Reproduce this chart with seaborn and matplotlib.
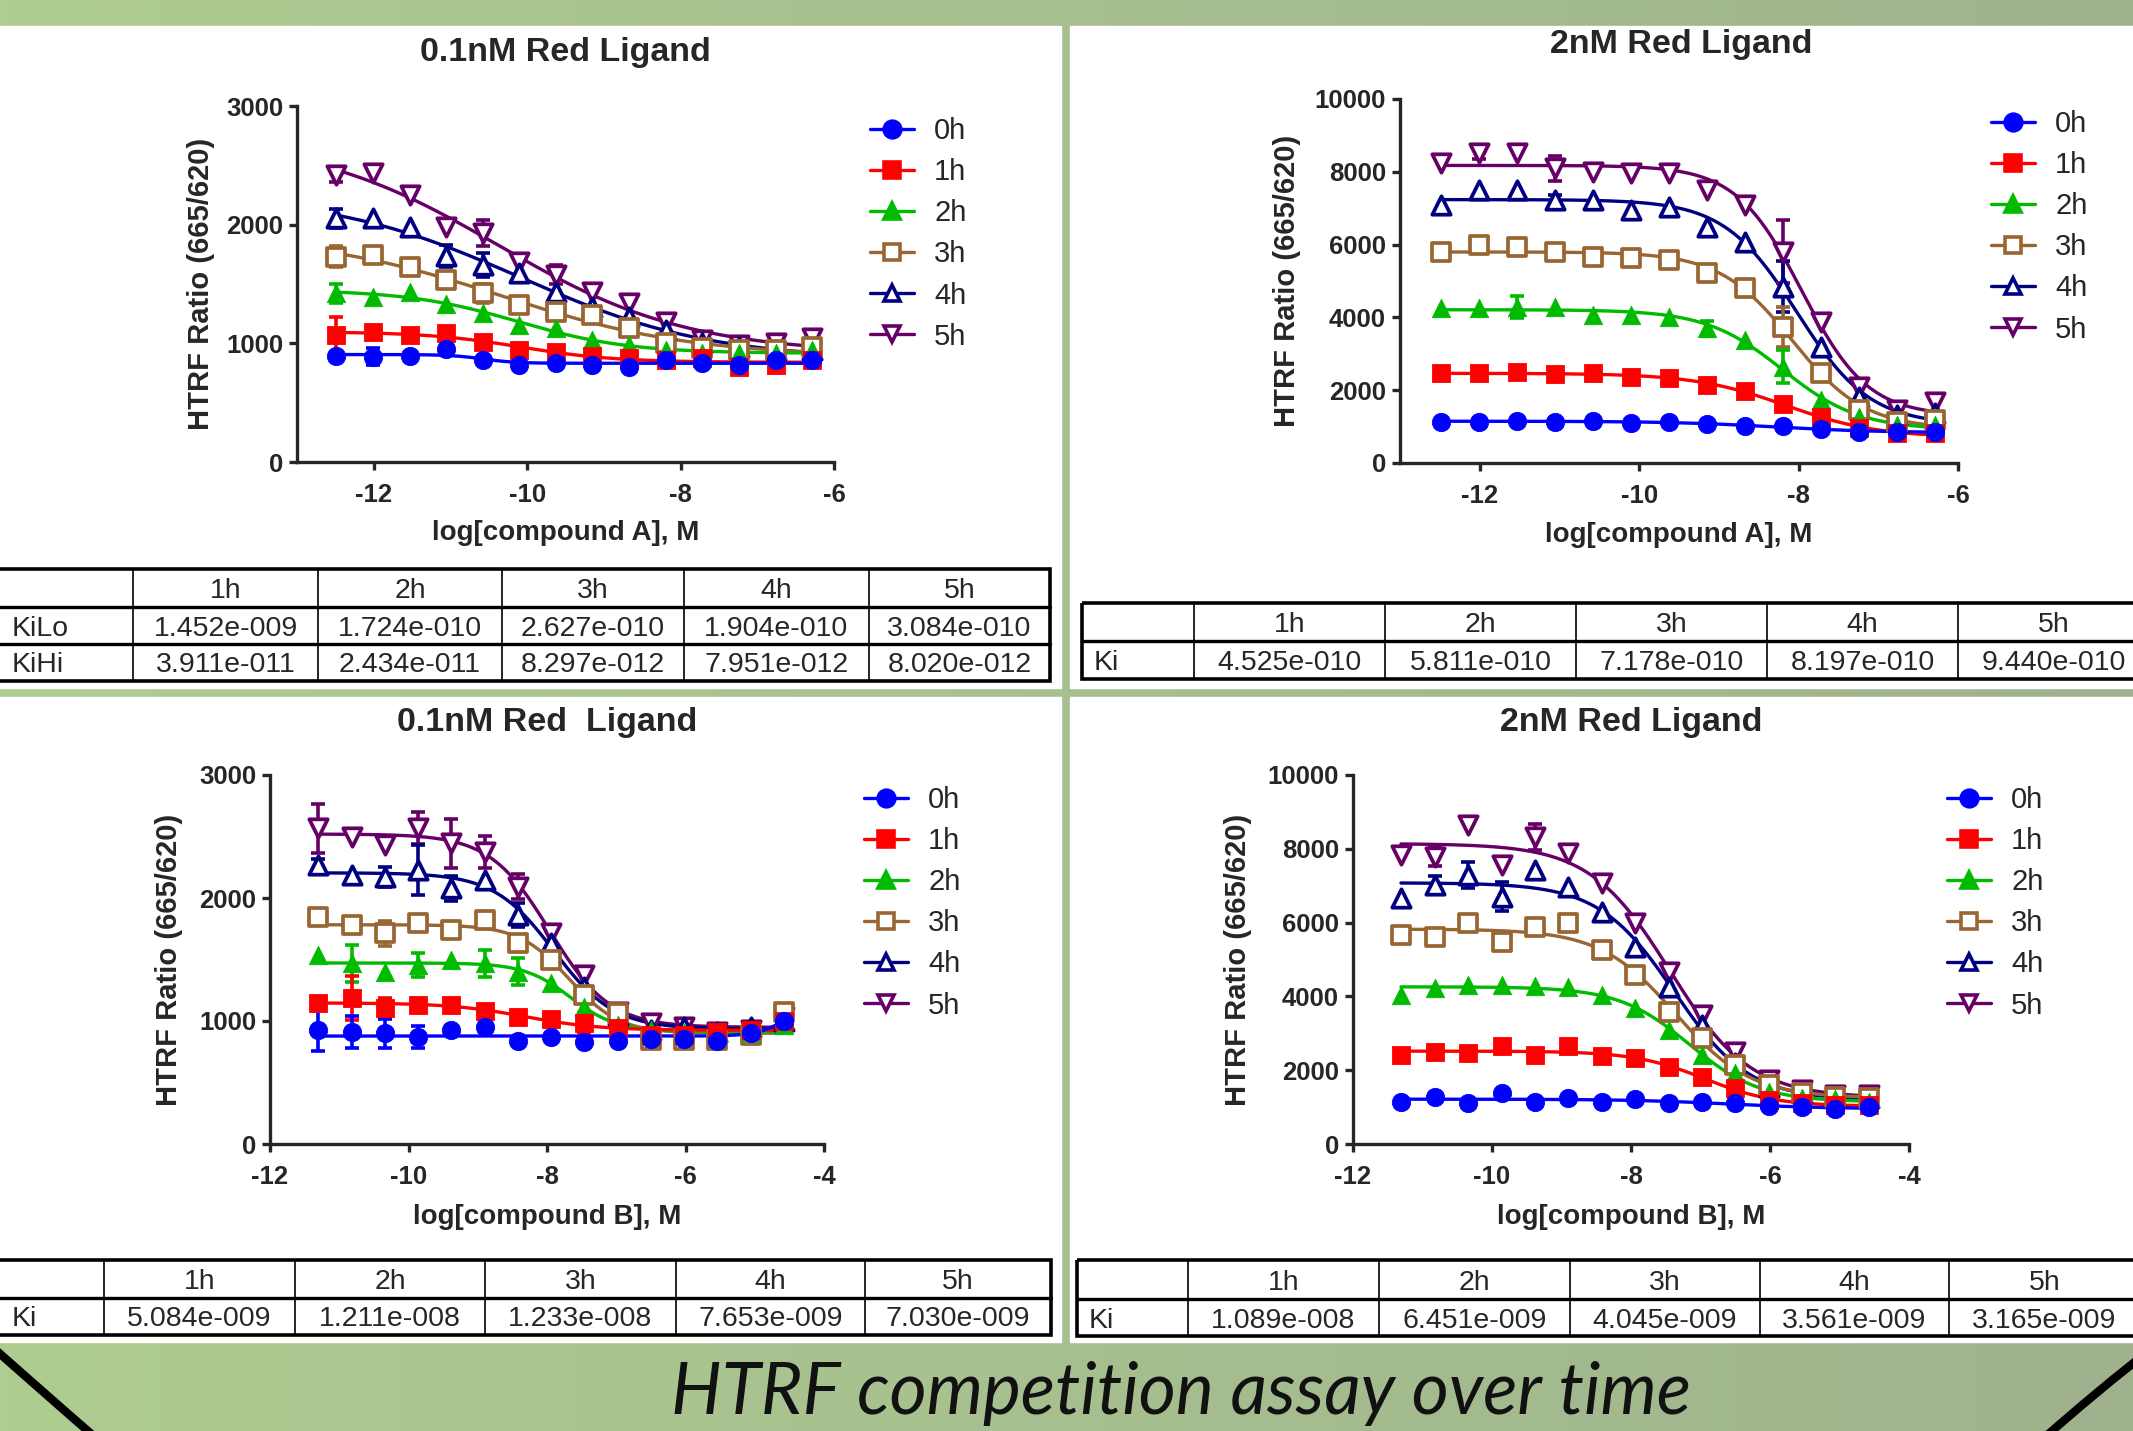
import numpy as np
import matplotlib
matplotlib.use('Agg')
import matplotlib.pyplot as plt
from matplotlib.lines import Line2D
from matplotlib.patches import Rectangle, PathPatch
from matplotlib.path import Path
from matplotlib.colors import LinearSegmentedColormap
import seaborn as sns

W, H = 2133, 1431

# ---- data -------------------------------------------------------------
times = ['0h', '1h', '2h', '3h', '4h', '5h']
hours = ['1h', '2h', '3h', '4h', '5h']

logA = [-12.49, -12.01, -11.53, -11.06, -10.58, -10.10, -9.62, -9.15,
        -8.67, -8.19, -7.72, -7.24, -6.76, -6.29]
logB = [-11.31, -10.82, -10.34, -9.86, -9.38, -8.90, -8.42, -7.94,
        -7.46, -6.98, -6.50, -6.02, -5.54, -5.06, -4.58]

# compound A, 0.1nM red ligand (rows 0h..5h)
a_low = [
    [893, 888, 893, 952, 860, 817, 831, 817, 803, 857, 837, 817, 857, 857],
    [1070, 1098, 1070, 1084, 1014, 944, 930, 893, 874, 860, 874, 803, 817, 860],
    [1421, 1393, 1435, 1331, 1253, 1154, 1126, 1028, 986, 944, 916, 916, 916, 944],
    [1730, 1744, 1646, 1534, 1421, 1323, 1267, 1239, 1126, 1000, 958, 944, 944, 972],
    [2053, 2053, 1978, 1736, 1660, 1590, 1435, 1309, 1225, 1112, 1000, 972, 944, 944],
    [2419, 2438, 2250, 1978, 1927, 1688, 1576, 1435, 1343, 1183, 1028, 986, 1000, 1042],
]
a_low_err = [
    [0, 70, 0, 0, 0, 0, 0, 0, 0, 0, 0, 0, 0, 0],
    [150, 0, 0, 0, 0, 0, 0, 0, 0, 0, 0, 0, 0, 0],
    [80, 0, 0, 0, 0, 0, 0, 0, 0, 0, 0, 0, 0, 0],
    [90, 0, 0, 0, 80, 0, 0, 0, 0, 0, 0, 0, 0, 0],
    [80, 0, 0, 90, 100, 0, 0, 0, 0, 0, 0, 0, 0, 0],
    [60, 0, 0, 0, 110, 0, 80, 0, 0, 0, 0, 0, 0, 0],
]

# compound A, 2nM red ligand
a_high = [
    [1136, 1136, 1163, 1136, 1163, 1108, 1136, 1062, 1016, 1016, 925, 861, 861, 861],
    [2463, 2463, 2490, 2445, 2480, 2353, 2326, 2143, 1987, 1621, 1273, 952, 815, 815],
    [4249, 4249, 4295, 4280, 4066, 4066, 4020, 3699, 3379, 2646, 1731, 1273, 1044, 1044],
    [5805, 5989, 5943, 5805, 5668, 5622, 5577, 5210, 4799, 3745, 2463, 1456, 1136, 1181],
    [7087, 7500, 7500, 7225, 7225, 6950, 7023, 6492, 6080, 4844, 3195, 1822, 1319, 1364],
    [8232, 8507, 8525, 8095, 8003, 7957, 7957, 7500, 7087, 5805, 3882, 2097, 1456, 1685],
]
a_high_err = [
    [0] * 14,
    [0] * 14,
    [0, 0, 300, 0, 0, 0, 0, 200, 0, 450, 0, 0, 0, 0],
    [0, 0, 0, 0, 0, 0, 0, 0, 0, 550, 0, 0, 0, 0],
    [0, 0, 0, 150, 0, 0, 0, 0, 0, 700, 0, 0, 0, 0],
    [0, 150, 0, 350, 0, 0, 0, 0, 0, 870, 0, 0, 0, 0],
]

# compound B, 0.1nM red ligand
b_low = [
    [927, 913, 900, 873, 927, 949, 840, 868, 832, 840, 851, 851, 840, 900, 1003],
    [1144, 1185, 1103, 1130, 1130, 1084, 1035, 1014, 981, 940, 886, 886, 913, 927, 1003],
    [1537, 1469, 1401, 1455, 1496, 1469, 1401, 1306, 1116, 967, 927, 900, 886, 913, 967],
    [1848, 1780, 1713, 1794, 1740, 1821, 1632, 1496, 1211, 1062, 846, 846, 846, 886, 1076],
    [2268, 2187, 2168, 2228, 2079, 2146, 1862, 1632, 1279, 1049, 927, 954, 913, 954, 1003],
    [2566, 2499, 2431, 2566, 2444, 2377, 2092, 1713, 1374, 1076, 981, 954, 913, 927, 1035],
]
b_low_err = [
    [170, 130, 120, 90, 0, 0, 0, 0, 0, 0, 0, 0, 0, 0, 0],
    [0, 180, 80, 0, 0, 0, 0, 0, 80, 0, 0, 0, 0, 0, 0],
    [0, 150, 0, 100, 0, 110, 110, 0, 0, 0, 0, 0, 0, 0, 0],
    [50, 0, 100, 0, 0, 0, 0, 0, 0, 0, 0, 0, 0, 0, 0],
    [50, 0, 80, 200, 100, 0, 100, 0, 0, 0, 0, 0, 0, 0, 0],
    [200, 0, 0, 130, 200, 130, 100, 0, 0, 0, 0, 0, 0, 0, 0],
]

# compound B, 2nM red ligand
b_high = [
    [1147, 1265, 1120, 1391, 1147, 1238, 1147, 1210, 1102, 1147, 1102, 1030, 994, 940, 1011],
    [2412, 2502, 2457, 2656, 2412, 2656, 2394, 2340, 2096, 1807, 1509, 1192, 1102, 1057, 1057],
    [4038, 4219, 4309, 4309, 4282, 4263, 4038, 3677, 3089, 2412, 1915, 1418, 1236, 1210, 1147],
    [5664, 5618, 5981, 5482, 5889, 5981, 5257, 4580, 3586, 2864, 2141, 1599, 1374, 1282, 1238],
    [6658, 7019, 7290, 6702, 7425, 6973, 6296, 5347, 4263, 3225, 2187, 1553, 1374, 1282, 1238],
    [7832, 7786, 8645, 7561, 8328, 7877, 7065, 5981, 4670, 3496, 2502, 1734, 1463, 1328, 1328],
]
b_high_err = [
    [0] * 15,
    [0] * 15,
    [0] * 15,
    [0] * 15,
    [0, 250, 350, 400, 0, 0, 0, 0, 0, 0, 0, 0, 0, 0, 0],
    [0, 250, 0, 0, 350, 0, 0, 0, 0, 0, 0, 0, 0, 0, 0],
]

# Ki tables
a_low_kilo = ['1.452e-009', '1.724e-010', '2.627e-010', '1.904e-010', '3.084e-010']
a_low_kihi = ['3.911e-011', '2.434e-011', '8.297e-012', '7.951e-012', '8.020e-012']
a_high_ki = ['4.525e-010', '5.811e-010', '7.178e-010', '8.197e-010', '9.440e-010']
b_low_ki = ['5.084e-009', '1.211e-008', '1.233e-008', '7.653e-009', '7.030e-009']
b_high_ki = ['1.089e-008', '6.451e-009', '4.045e-009', '3.561e-009', '3.165e-009']

# ---- style ------------------------------------------------------------
colors = ['#0000ff', '#ff0000', '#00bb00', '#996633', '#000080', '#660066']
markers = ['o', 's', '^', 's', '^', 'v']
filled = [True, True, True, False, False, False]

sns.set_style('ticks')
plt.rcParams['font.family'] = ['Liberation Sans', 'DejaVu Sans']


def fit_4pl(x, y):
    # grid search on logIC50 / hill, bottom and top solved by least squares
    x = np.asarray(x, float)
    y = np.asarray(y, float)
    cc, hh = np.meshgrid(np.arange(-13.0, -4.5, 0.02), np.arange(0.3, 2.01, 0.05))
    cc, hh = cc.ravel(), hh.ravel()
    s = 1.0 / (1.0 + 10 ** ((x[None, :] - cc[:, None]) * hh[:, None]))
    u = 1 - s
    uu, vv, uv = (u * u).sum(1), (s * s).sum(1), (u * s).sum(1)
    uy, vy = (u * y).sum(1), (s * y).sum(1)
    det = uu * vv - uv ** 2
    det[np.abs(det) < 1e-6] = np.nan
    b = (vv * uy - uv * vy) / det
    t = (uu * vy - uv * uy) / det
    sse = ((b[:, None] * u + t[:, None] * s - y[None, :]) ** 2).sum(1)
    sse[np.isnan(sse)] = np.inf
    i = np.argmin(sse)
    return b[i], t[i], cc[i], hh[i]


fig = plt.figure(figsize=(W / 100, H / 100), dpi=100)
bg = fig.add_axes([0, 0, 1, 1], zorder=0)
grad = np.linspace(0, 1, 256)[None, :]
cmap = LinearSegmentedColormap.from_list('bg', ['#aecd91', '#9fb28d'])
bg.imshow(grad, cmap=cmap, extent=[0, W, H, 0], aspect='auto', zorder=0)
bg.set_xlim(0, W)
bg.set_ylim(H, 0)
bg.axis('off')

for x0, y0, x1, y1 in [(0, 26, 1061, 688), (1070, 26, 2133, 688),
                       (0, 697, 1061, 1342), (1070, 697, 2133, 1342)]:
    bg.add_patch(Rectangle((x0, y0), x1 - x0, y1 - y0, color='white', zorder=1))


def draw_table(xs, ys, rows, values):
    x0, x1, y0, y1 = xs[0], xs[-1], ys[0], ys[-1]
    bg.add_patch(Rectangle((x0, y0), x1 - x0, y1 - y0, fill=False, ec='black', lw=2.6, zorder=3))
    for y in ys[1:-1]:
        bg.plot([x0, x1], [y, y], color='black', lw=2.4, zorder=3)
    for x in xs[1:-1]:
        bg.plot([x, x], [y0, y1], color='black', lw=1.2, zorder=3)
    for j, h in enumerate(hours):
        bg.text((xs[j + 1] + xs[j + 2]) / 2, (ys[0] + ys[1]) / 2, h, ha='center',
                va='center_baseline', fontsize=20.5, zorder=4)
    for i, (lab, vals) in enumerate(zip(rows, values)):
        yc = (ys[i + 1] + ys[i + 2]) / 2
        bg.text(max(x0, 0) + 12, yc, lab, ha='left', va='center_baseline', fontsize=20.5, zorder=4)
        for j, v in enumerate(vals):
            bg.text((xs[j + 1] + xs[j + 2]) / 2, yc, v, ha='center',
                    va='center_baseline', fontsize=20.5, zorder=4)


draw_table([-5, 133, 318, 502, 684, 869, 1050], [569, 607, 644, 681],
           ['KiLo', 'KiHi'], [a_low_kilo, a_low_kihi])
draw_table([1082, 1194, 1385, 1576, 1767, 1958, 2149], [603, 641, 679],
           ['Ki'], [a_high_ki])
draw_table([-5, 104, 295, 485, 676, 865, 1051], [1260, 1298, 1335],
           ['Ki'], [b_low_ki])
draw_table([1077, 1188, 1379, 1570, 1760, 1949, 2140], [1260, 1299, 1336],
           ['Ki'], [b_high_ki])

# decorative arcs in the banner
for pts in [[(-20, 1336), (36, 1386), (104, 1445)], [(2155, 1346), (2098, 1390), (2036, 1445)]]:
    p = Path(pts, [Path.MOVETO, Path.CURVE3, Path.CURVE3])
    bg.add_patch(PathPatch(p, fill=False, ec='black', lw=6, zorder=2))

banner = bg.text(1181, 1414, 'HTRF competition assay over time', fontsize=60,
                 style='italic', family=['Lato', 'DejaVu Sans'], ha='center',
                 va='baseline', color='#111111', zorder=3)

handles = [Line2D([0], [0], color=c, lw=2.4, marker=m, markersize=12,
                  markerfacecolor=c if f else 'white', markeredgecolor=c,
                  markeredgewidth=2.6)
           for c, m, f in zip(colors, markers, filled)]


def draw_panel(box, x, ratios, errs, xlim, xticks, ymax, ystep, xlabel, title,
               title_xy, ylab_x, leg_xy):
    x0, y0, x1, y1 = box
    ax = fig.add_axes([x0 / W, 1 - y1 / H, (x1 - x0) / W, (y1 - y0) / H], zorder=2)
    ax.patch.set_visible(False)
    xv = np.asarray(x, float)
    for k in reversed(range(6)):
        y = np.asarray(ratios[k], float)
        e = np.asarray(errs[k], float)
        b, t, c, h = fit_4pl(xv, y)
        xf = np.linspace(xv.min(), xv.max(), 300)
        yf = b + (t - b) / (1 + 10 ** ((xf - c) * h))
        sns.lineplot(x=xf, y=yf, color=colors[k], linewidth=2.4, ax=ax, zorder=3)
        m = e > 0
        if m.any():
            ax.errorbar(xv[m], y[m], yerr=e[m], fmt='none', ecolor=colors[k],
                        elinewidth=2.6, capsize=5, capthick=2.6, zorder=4)
        sns.scatterplot(x=xv, y=y, marker=markers[k], s=175,
                        color=colors[k] if filled[k] else 'white',
                        edgecolor=colors[k], linewidth=0.6 if filled[k] else 2.7,
                        ax=ax, zorder=5, legend=False)
    ax.set_xlim(*xlim)
    ax.set_ylim(0, ymax)
    ax.set_xticks(xticks, labels=[str(v) for v in xticks], fontweight='bold', fontsize=18.5)
    yt = list(range(0, ymax + 1, ystep))
    ax.set_yticks(yt, labels=[str(v) for v in yt], fontweight='bold', fontsize=18.5)
    sns.despine(ax=ax)
    for s in ['left', 'bottom']:
        ax.spines[s].set_linewidth(2.4)
    ax.tick_params(direction='out', length=6, width=2.4, pad=4)
    ax.tick_params(axis='x', pad=9)
    ax.set_xlabel(xlabel, fontsize=20, fontweight='bold')
    ax.xaxis.set_label_coords(0.5, -0.163)
    ax.set_ylabel('HTRF Ratio (665/620)', fontsize=21, fontweight='bold')
    ax.yaxis.set_label_coords(ylab_x, 0.5)
    bg.text(title_xy[0], title_xy[1], title, ha='center', va='center', fontsize=24.5,
            fontweight='bold', zorder=4)
    ax.legend(handles=handles, labels=times, loc='upper left',
              bbox_to_anchor=(leg_xy[0] / W, 1 - leg_xy[1] / H),
              bbox_transform=fig.transFigure, frameon=False, fontsize=21,
              handlelength=1.5, handletextpad=0.7, labelspacing=0.45,
              borderpad=0, borderaxespad=0)
    return ax


draw_panel((297, 106, 834, 462), logA, a_low, a_low_err, (-13, -6), [-12, -10, -8, -6],
           3000, 1000, 'log[compound A], M', '0.1nM Red Ligand', (565, 53), -0.153, (870, 117))
draw_panel((1400, 99, 1958, 463), logA, a_high, a_high_err, (-13, -6), [-12, -10, -8, -6],
           10000, 2000, 'log[compound A], M', '2nM Red Ligand', (1681, 44), -0.177, (1991, 110))
draw_panel((270, 775, 824, 1144), logB, b_low, b_low_err, (-12, -4), [-12, -10, -8, -6, -4],
           3000, 1000, 'log[compound B], M', '0.1nM Red  Ligand', (547, 722), -0.157, (864, 786))
draw_panel((1353, 775, 1909, 1144), logB, b_high, b_high_err, (-12, -4), [-12, -10, -8, -6, -4],
           10000, 2000, 'log[compound B], M', '2nM Red Ligand', (1631, 722), -0.182, (1947, 786))

fig.canvas.draw()
wpx = banner.get_window_extent().width
banner.set_fontsize(60 * 1020 / wpx)

fig.savefig('out.png', dpi=100)
